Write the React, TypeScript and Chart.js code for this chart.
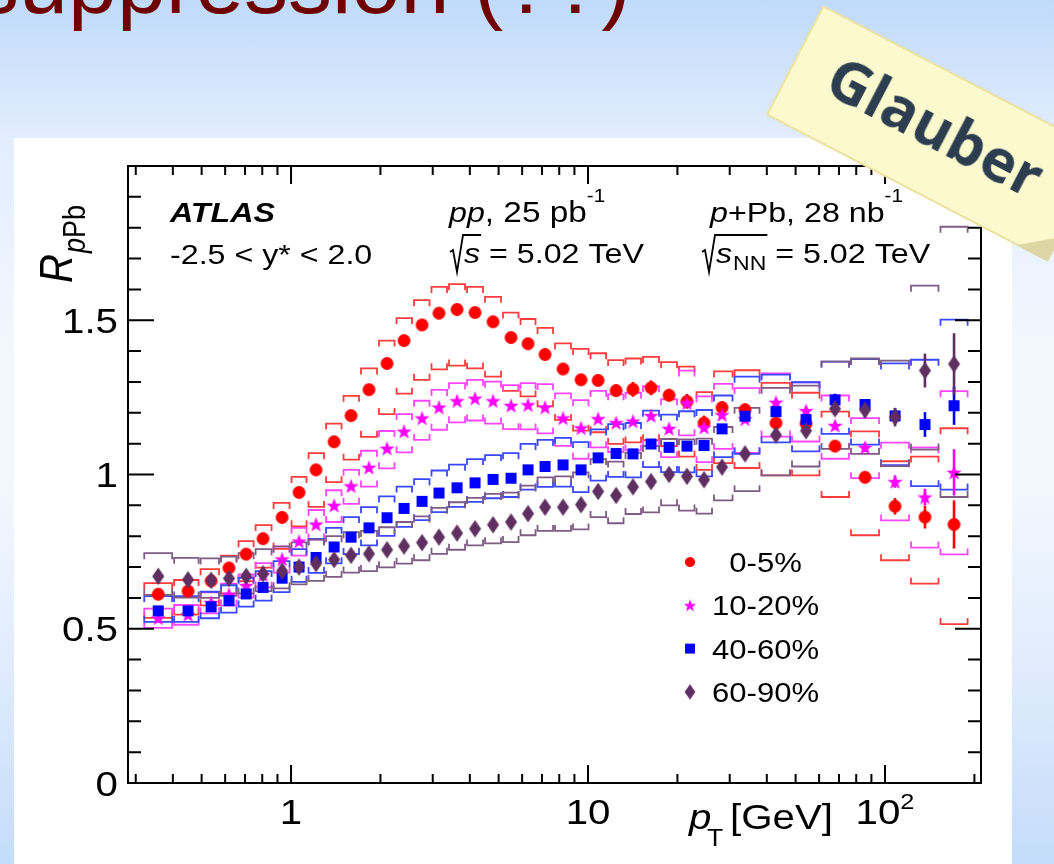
import React, { useEffect, useRef } from "react";
import { Chart, registerables } from "chart.js";

Chart.register(...registerables);

// Charged-hadron R_pPb versus pT, four centrality classes (ATLAS p+Pb, 5.02 TeV)
const pT = [
  0.357, 0.45, 0.538, 0.618, 0.706, 0.805, 0.933, 1.064, 1.214, 1.396,
  1.592, 1.83, 2.105, 2.402, 2.761, 3.149, 3.622, 4.165, 4.788, 5.505,
  6.281, 7.165, 8.24, 9.471, 10.81, 12.43, 14.17, 16.3, 18.74, 21.54,
  24.58, 28.26, 33.79, 42.95, 54.2, 67.87, 85.65, 108.1, 136.3, 170.8,
];

// 0-5 %
const rpPb_0_5 = [
  0.612, 0.622, 0.655, 0.697, 0.742, 0.792, 0.861, 0.942, 1.015, 1.106,
  1.191, 1.275, 1.36, 1.434, 1.485, 1.523, 1.535, 1.525, 1.495, 1.444,
  1.424, 1.389, 1.342, 1.307, 1.305, 1.272, 1.276, 1.281, 1.257, 1.237,
  1.167, 1.217, 1.21, 1.167, 1.165, 1.092, 0.991, 0.897, 0.862, 0.838,
];
const sysUp_0_5 = [
  0.036, 0.036, 0.038, 0.04, 0.042, 0.044, 0.047, 0.05, 0.054, 0.059,
  0.064, 0.069, 0.074, 0.073, 0.08, 0.085, 0.082, 0.083, 0.081, 0.081,
  0.08, 0.086, 0.083, 0.1, 0.088, 0.099, 0.1, 0.1, 0.107, 0.113,
  0.1, 0.117, 0.128, 0.13, 0.1, 0.112, 0.149, 0.146, 0.196, 0.312,
];
const sysDn_0_5 = [
  0.077, 0.076, 0.079, 0.083, 0.088, 0.094, 0.102, 0.11, 0.12, 0.131,
  0.143, 0.153, 0.164, 0.172, 0.178, 0.182, 0.182, 0.181, 0.178, 0.173,
  0.171, 0.168, 0.165, 0.165, 0.168, 0.173, 0.172, 0.17, 0.165, 0.179,
  0.152, 0.18, 0.189, 0.17, 0.168, 0.165, 0.188, 0.175, 0.216, 0.323,
];
const stat_0_5 = [
  0.003, 0.003, 0.003, 0.003, 0.003, 0.003, 0.003, 0.003, 0.003, 0.003,
  0.003, 0.003, 0.003, 0.003, 0.003, 0.003, 0.003, 0.003, 0.003, 0.003,
  0.003, 0.003, 0.003, 0.003, 0.01, 0.02, 0.024, 0.024, 0.02, 0.024,
  0.024, 0.02, 0.02, 0.015, 0.012, 0.012, 0.012, 0.027, 0.037, 0.078,
];

// 10-20 %
const rpPb_10_20 = [
  0.535, 0.546, 0.585, 0.612, 0.64, 0.675, 0.726, 0.784, 0.839, 0.9,
  0.963, 1.023, 1.085, 1.14, 1.183, 1.218, 1.239, 1.247, 1.239, 1.224,
  1.226, 1.218, 1.183, 1.151, 1.181, 1.168, 1.173, 1.191, 1.149, 1.232,
  1.153, 1.194, 1.18, 1.234, 1.207, 1.159, 1.088, 0.977, 0.927, 1.007,
];
const sysUp_10_20 = [
  0.03, 0.031, 0.033, 0.034, 0.036, 0.038, 0.04, 0.043, 0.046, 0.049,
  0.052, 0.054, 0.056, 0.056, 0.056, 0.056, 0.057, 0.06, 0.062, 0.066,
  0.07, 0.075, 0.08, 0.09, 0.09, 0.092, 0.092, 0.095, 0.095, 0.105,
  0.1, 0.1, 0.1, 0.094, 0.092, 0.097, 0.095, 0.126, 0.161, 0.263,
];
const sysDn_10_20 = [
  0.032, 0.033, 0.035, 0.037, 0.039, 0.041, 0.044, 0.047, 0.05, 0.054,
  0.058, 0.062, 0.065, 0.068, 0.071, 0.073, 0.07, 0.072, 0.074, 0.077,
  0.08, 0.085, 0.09, 0.1, 0.093, 0.095, 0.095, 0.098, 0.093, 0.105,
  0.113, 0.111, 0.11, 0.111, 0.1, 0.108, 0.1, 0.126, 0.164, 0.266,
];
const stat_10_20 = [
  0.003, 0.003, 0.003, 0.003, 0.003, 0.003, 0.003, 0.003, 0.003, 0.003,
  0.003, 0.003, 0.003, 0.003, 0.003, 0.003, 0.003, 0.003, 0.003, 0.003,
  0.003, 0.003, 0.003, 0.003, 0.008, 0.01, 0.01, 0.01, 0.012, 0.012,
  0.012, 0.012, 0.012, 0.012, 0.012, 0.012, 0.015, 0.02, 0.027, 0.075,
];

// 40-60 %
const rpPb_40_60 = [
  0.558, 0.558, 0.571, 0.591, 0.613, 0.634, 0.664, 0.7, 0.731, 0.765,
  0.797, 0.827, 0.86, 0.89, 0.913, 0.94, 0.957, 0.973, 0.984, 0.988,
  1.015, 1.026, 1.031, 1.015, 1.054, 1.068, 1.067, 1.099, 1.088, 1.092,
  1.094, 1.148, 1.189, 1.204, 1.178, 1.242, 1.227, 1.19, 1.162, 1.223,
];
const sysUp_40_60 = [
  0.048, 0.048, 0.049, 0.05, 0.052, 0.053, 0.055, 0.058, 0.06, 0.062,
  0.065, 0.067, 0.069, 0.071, 0.072, 0.073, 0.075, 0.077, 0.079, 0.081,
  0.084, 0.086, 0.088, 0.09, 0.092, 0.095, 0.1, 0.108, 0.106, 0.113,
  0.115, 0.108, 0.128, 0.12, 0.121, 0.124, 0.147, 0.17, 0.21, 0.279,
];
const sysDn_40_60 = [
  0.036, 0.036, 0.037, 0.039, 0.041, 0.043, 0.045, 0.048, 0.05, 0.053,
  0.055, 0.057, 0.059, 0.06, 0.061, 0.062, 0.062, 0.062, 0.061, 0.061,
  0.064, 0.066, 0.07, 0.072, 0.074, 0.076, 0.076, 0.075, 0.08, 0.085,
  0.1, 0.092, 0.122, 0.1, 0.103, 0.11, 0.13, 0.16, 0.2, 0.272,
];
const stat_40_60 = [
  0.003, 0.003, 0.003, 0.003, 0.003, 0.003, 0.003, 0.003, 0.003, 0.003,
  0.003, 0.003, 0.003, 0.003, 0.003, 0.003, 0.003, 0.003, 0.003, 0.003,
  0.003, 0.003, 0.003, 0.003, 0.008, 0.01, 0.012, 0.012, 0.015, 0.015,
  0.018, 0.015, 0.012, 0.012, 0.012, 0.02, 0.015, 0.025, 0.04, 0.062,
];

// 60-90 %
const rpPb_60_90 = [
  0.67, 0.659, 0.657, 0.663, 0.67, 0.678, 0.687, 0.7, 0.711, 0.724,
  0.738, 0.743, 0.756, 0.768, 0.779, 0.797, 0.81, 0.824, 0.837, 0.846,
  0.873, 0.894, 0.894, 0.902, 0.945, 0.932, 0.96, 0.977, 1.0, 0.994,
  0.983, 1.024, 1.067, 1.128, 1.142, 1.213, 1.209, 1.186, 1.337, 1.358,
];
const sysUp_60_90 = [
  0.075, 0.071, 0.071, 0.071, 0.075, 0.08, 0.08, 0.08, 0.078, 0.076,
  0.075, 0.074, 0.073, 0.078, 0.085, 0.095, 0.1, 0.1, 0.1, 0.095,
  0.091, 0.097, 0.1, 0.105, 0.105, 0.11, 0.11, 0.115, 0.115, 0.12,
  0.133, 0.13, 0.149, 0.153, 0.146, 0.153, 0.167, 0.183, 0.275, 0.445,
];
const sysDn_60_90 = [
  0.06, 0.058, 0.057, 0.056, 0.056, 0.056, 0.056, 0.056, 0.056, 0.056,
  0.056, 0.056, 0.057, 0.057, 0.057, 0.054, 0.054, 0.054, 0.06, 0.065,
  0.07, 0.077, 0.077, 0.08, 0.083, 0.09, 0.088, 0.1, 0.1, 0.111,
  0.11, 0.108, 0.121, 0.131, 0.116, 0.13, 0.142, 0.159, 0.256, 0.431,
];
const stat_60_90 = [
  0.003, 0.003, 0.003, 0.003, 0.003, 0.003, 0.003, 0.003, 0.003, 0.003,
  0.003, 0.003, 0.003, 0.003, 0.003, 0.003, 0.003, 0.003, 0.003, 0.003,
  0.003, 0.003, 0.003, 0.003, 0.008, 0.008, 0.01, 0.01, 0.012, 0.012,
  0.012, 0.012, 0.012, 0.015, 0.02, 0.02, 0.024, 0.03, 0.055, 0.1,
];

const centralityLabels = ["\u20070-5%", "10-20%", "40-60%", "60-90%"];
const xTickValues = [1, 10, 100];
const xTickLabels = ["1", "10", "10²"];
const yTickValues = [0, 0.5, 1, 1.5];
const yTickLabels = ["0", "0.5", "1", "1.5"];

const HELV = "'Liberation Sans', Arial, Helvetica, sans-serif";
const SX = 1.15; // horizontal stretch of the figure's lettering

type MarkerKind = "circle" | "star" | "square" | "diamond";

function makeMarker(kind: MarkerKind, color: string, s = 1): HTMLCanvasElement {
  const c = document.createElement("canvas");
  let w = 15;
  let h = 15;
  if (kind === "star") { w = 19; h = 19; }
  if (kind === "diamond") { w = 15; h = 21; }
  w = Math.round(w * s);
  h = Math.round(h * s);
  c.width = w;
  c.height = h;
  const g = c.getContext("2d")!;
  g.fillStyle = color;
  const cx = w / 2;
  const cy = h / 2;
  g.beginPath();
  if (kind === "circle") {
    g.arc(cx, cy, 6.4 * s, 0, Math.PI * 2);
  } else if (kind === "square") {
    g.rect(cx - 5.5 * s, cy - 5.5 * s, 11 * s, 11 * s);
  } else if (kind === "diamond") {
    g.moveTo(cx, cy - 8.7 * s);
    g.lineTo(cx + 6 * s, cy);
    g.lineTo(cx, cy + 8.7 * s);
    g.lineTo(cx - 6 * s, cy);
    g.closePath();
  } else {
    const R = 8 * s;
    const r = 3.3 * s;
    for (let k = 0; k < 10; k++) {
      const a = -Math.PI / 2 + (k * Math.PI) / 5;
      const rr = k % 2 === 0 ? R : r;
      const px = cx + rr * Math.cos(a);
      const py = cy + 0.8 * s + rr * Math.sin(a);
      if (k === 0) g.moveTo(px, py); else g.lineTo(px, py);
    }
    g.closePath();
  }
  g.fill();
  return c;
}

interface Series {
  label: string;
  values: number[];
  up: number[];
  dn: number[];
  stat: number[];
  color: string;
  sysColor: string;
  marker: MarkerKind;
  order: number;
}

const SERIES: Series[] = [
  { label: centralityLabels[0], values: rpPb_0_5, up: sysUp_0_5, dn: sysDn_0_5, stat: stat_0_5, color: "#ff0000", sysColor: "#ff3c3c", marker: "circle", order: 4 },
  { label: centralityLabels[1], values: rpPb_10_20, up: sysUp_10_20, dn: sysDn_10_20, stat: stat_10_20, color: "#ff00ff", sysColor: "#ff45ff", marker: "star", order: 3 },
  { label: centralityLabels[2], values: rpPb_40_60, up: sysUp_40_60, dn: sysDn_40_60, stat: stat_40_60, color: "#0000ff", sysColor: "#3a48ff", marker: "square", order: 2 },
  { label: centralityLabels[3], values: rpPb_60_90, up: sysUp_60_90, dn: sysDn_60_90, stat: stat_60_90, color: "#5e2f60", sysColor: "#7e5c84", marker: "diamond", order: 1 },
];

// box edges: geometric midpoints between neighbouring pT values
function binEdges(i: number): [number, number] {
  const n = pT.length;
  const lo = i > 0 ? Math.sqrt(pT[i - 1] * pT[i]) : (pT[0] * pT[0]) / Math.sqrt(pT[0] * pT[1]);
  const hi = i < n - 1 ? Math.sqrt(pT[i] * pT[i + 1]) : (pT[n - 1] * pT[n - 1]) / Math.sqrt(pT[n - 2] * pT[n - 1]);
  return [lo, hi];
}

type Run = { t: string; f: string; dy?: number };

function drawRuns(ctx: CanvasRenderingContext2D, x: number, y: number, runs: Run[]): number {
  let cx = x;
  for (const r of runs) {
    ctx.font = r.f;
    ctx.save();
    ctx.translate(cx, y + (r.dy || 0));
    ctx.scale(SX, 1);
    ctx.fillText(r.t, 0, 0);
    ctx.restore();
    cx += ctx.measureText(r.t).width * SX;
  }
  return cx;
}

function runsWidth(ctx: CanvasRenderingContext2D, runs: Run[]): number {
  let w = 0;
  for (const r of runs) {
    ctx.font = r.f;
    w += ctx.measureText(r.t).width * SX;
  }
  return w;
}

function radical(ctx: CanvasRenderingContext2D, x0: number, by: number, end: number) {
  ctx.save();
  ctx.strokeStyle = "#000";
  ctx.lineWidth = 1.8;
  ctx.lineJoin = "miter";
  ctx.beginPath();
  ctx.moveTo(x0, by - 11);
  ctx.lineTo(x0 + 3, by - 13);
  ctx.lineTo(x0 + 7, by + 9);
  ctx.lineTo(x0 + 13, by - 28);
  ctx.lineTo(end, by - 28);
  ctx.stroke();
  ctx.restore();
}

function labelRuns(label: string, size: number): Run[] {
  const parts = label.split("²");
  if (parts.length === 1) return [{ t: label, f: `${size}px ${HELV}` }];
  return [
    { t: parts[0], f: `${size}px ${HELV}` },
    { t: "2", f: `${Math.round(size * 0.62)}px ${HELV}`, dy: -15 },
  ];
}

const legendMarkers: Record<string, HTMLCanvasElement> = {};

const rootFrame = {
  id: "rootFrame",
  beforeDatasetsDraw(chart: any) {
    const { ctx, scales } = chart;
    const xs = scales.x;
    const ys = scales.y;
    const CAP = 6;
    ctx.save();
    ctx.lineWidth = 1.8;
    for (const s of SERIES) {
      ctx.strokeStyle = s.sysColor;
      for (let i = 0; i < pT.length; i++) {
        const [lo, hi] = binEdges(i);
        const xl = xs.getPixelForValue(lo) + 1;
        const xr = xs.getPixelForValue(hi) - 1;
        const yt = ys.getPixelForValue(s.values[i] + s.up[i]);
        const yb = ys.getPixelForValue(s.values[i] - s.dn[i]);
        ctx.beginPath();
        ctx.moveTo(xl, yt + CAP);
        ctx.lineTo(xl, yt);
        ctx.lineTo(xr, yt);
        ctx.lineTo(xr, yt + CAP);
        ctx.moveTo(xl, yb - CAP);
        ctx.lineTo(xl, yb);
        ctx.lineTo(xr, yb);
        ctx.lineTo(xr, yb - CAP);
        ctx.stroke();
      }
    }
    ctx.lineWidth = 2.6;
    for (const s of SERIES) {
      ctx.strokeStyle = s.color;
      for (let i = 0; i < pT.length; i++) {
        if (s.stat[i] < 0.006) continue;
        const px = xs.getPixelForValue(pT[i]);
        ctx.beginPath();
        ctx.moveTo(px, ys.getPixelForValue(s.values[i] + s.stat[i]));
        ctx.lineTo(px, ys.getPixelForValue(s.values[i] - s.stat[i]));
        ctx.stroke();
      }
    }
    ctx.restore();
  },
  afterDatasetsDraw(chart: any) {
    const { ctx, chartArea, scales } = chart;
    const xs = scales.x;
    const ys = scales.y;
    const { left: L, right: R, top: T, bottom: B } = chartArea;
    ctx.save();
    ctx.fillStyle = "#000";
    ctx.strokeStyle = "#000";
    ctx.textAlign = "left";
    ctx.textBaseline = "alphabetic";

    // frame
    ctx.lineWidth = 2;
    ctx.strokeRect(L, T, R - L, B - T);

    // x ticks, bottom and top, pointing inward
    const xMinor: number[] = [];
    for (const dec of [0.1, 1, 10, 100]) {
      for (let k = 2; k <= 9; k++) {
        const v = k * dec;
        if (v >= xs.min && v <= xs.max) xMinor.push(v);
      }
    }
    ctx.lineWidth = 2;
    ctx.beginPath();
    for (const v of xMinor) {
      const px = xs.getPixelForValue(v);
      ctx.moveTo(px, B); ctx.lineTo(px, B - 9);
      ctx.moveTo(px, T); ctx.lineTo(px, T + 9);
    }
    for (const v of xTickValues) {
      const px = xs.getPixelForValue(v);
      ctx.moveTo(px, B); ctx.lineTo(px, B - 18);
      ctx.moveTo(px, T); ctx.lineTo(px, T + 18);
    }
    // y ticks, left and right
    for (let k = 1; k < 20; k++) {
      if (k % 5 === 0) continue;
      const py = ys.getPixelForValue(k / 10);
      ctx.moveTo(L, py); ctx.lineTo(L + 13, py);
      ctx.moveTo(R, py); ctx.lineTo(R - 13, py);
    }
    for (const v of yTickValues) {
      const py = ys.getPixelForValue(v);
      ctx.moveTo(L, py); ctx.lineTo(L + 26, py);
      ctx.moveTo(R, py); ctx.lineTo(R - 26, py);
    }
    ctx.stroke();

    // tick labels
    xTickValues.forEach((v, i) => {
      const runs = labelRuns(xTickLabels[i], 35);
      const w = runsWidth(ctx, runs);
      drawRuns(ctx, xs.getPixelForValue(v) - w / 2, B + 41, runs);
    });
    yTickValues.forEach((v, i) => {
      const runs = labelRuns(yTickLabels[i], 35);
      const w = runsWidth(ctx, runs);
      drawRuns(ctx, L - 10 - w, ys.getPixelForValue(v) + 12.5, runs);
    });

    // x title
    drawRuns(ctx, L + 561, B + 46, [{ t: "p", f: `italic 35px ${HELV}` }]);
    drawRuns(ctx, L + 579, B + 63, [{ t: "T", f: `23px ${HELV}` }]);
    drawRuns(ctx, L + 602, B + 46, [{ t: "[GeV]", f: `35px ${HELV}` }]);

    // y title (rotated)
    ctx.save();
    ctx.translate(L - 56, T + 117);
    ctx.rotate(-Math.PI / 2);
    ctx.scale(1, SX);
    ctx.font = `italic 40px ${HELV}`;
    ctx.fillText("R", 0, 0);
    const wR = ctx.measureText("R").width;
    ctx.font = `italic 27px ${HELV}`;
    ctx.fillText("p", wR + 1, 11);
    const wp = ctx.measureText("p").width;
    ctx.font = `27px ${HELV}`;
    ctx.fillText("Pb", wR + 1 + wp, 11);
    ctx.restore();

    // annotations
    const f28 = `28px ${HELV}`;
    const i28 = `italic 28px ${HELV}`;
    drawRuns(ctx, L + 42, T + 56, [{ t: "ATLAS", f: `italic bold 28px ${HELV}` }]);
    drawRuns(ctx, L + 42, T + 98, [{ t: "-2.5 < y* < 2.0", f: f28 }]);

    drawRuns(ctx, L + 321, T + 56, [
      { t: "pp", f: i28 },
      { t: ", 25 pb", f: `29px ${HELV}` },
      { t: "-1", f: `18px ${HELV}`, dy: -20 },
    ]);
    {
      const by = T + 97;
      const x0 = L + 322;
      const xe = drawRuns(ctx, x0 + 14, by, [{ t: "s", f: i28 }]);
      radical(ctx, x0, by, xe + 1);
      drawRuns(ctx, xe, by, [{ t: " = 5.02 TeV", f: f28 }]);
    }

    drawRuns(ctx, L + 582, T + 56, [
      { t: "p", f: i28 },
      { t: "+Pb, 28 nb", f: f28 },
      { t: "-1", f: `18px ${HELV}`, dy: -20 },
    ]);
    {
      const by = T + 97;
      const x0 = L + 574;
      let xe = drawRuns(ctx, x0 + 14, by, [{ t: "s", f: i28 }]);
      xe = drawRuns(ctx, xe + 1, by, [{ t: "NN", f: `20px ${HELV}`, dy: 7 }]);
      radical(ctx, x0, by, xe + 1);
      drawRuns(ctx, xe, by, [{ t: " = 5.02 TeV", f: f28 }]);
    }

    // legend
    SERIES.forEach((s, k) => {
      const cy = T + 396 + k * 43.3;
      const img = legendMarkers[s.marker];
      if (img) ctx.drawImage(img, L + 562 - img.width / 2, cy - img.height / 2);
      drawRuns(ctx, L + 584, cy + 10, [{ t: s.label, f: `27px ${HELV}` }]);
    });

    ctx.restore();
  },
};

export default function App() {
  const ref = useRef<HTMLCanvasElement>(null);

  useEffect(() => {
    const canvas = ref.current;
    if (!canvas) return;
    legendMarkers.circle = makeMarker("circle", "#ff0000", 0.8);
    legendMarkers.star = makeMarker("star", "#ff00ff", 0.82);
    legendMarkers.square = makeMarker("square", "#0000ff", 0.9);
    legendMarkers.diamond = makeMarker("diamond", "#5e2f60", 0.9);

    const chart = new Chart(canvas, {
      type: "scatter",
      data: {
        datasets: SERIES.map((s) => ({
          label: s.label,
          data: s.values.map((v, i) => ({ x: pT[i], y: v })),
          pointStyle: makeMarker(s.marker, s.color),
          pointRadius: 6,
          pointHoverRadius: 6,
          borderWidth: 0,
          backgroundColor: s.color,
          borderColor: s.color,
          showLine: false,
          order: s.order,
        })),
      },
      options: {
        responsive: false,
        maintainAspectRatio: false,
        animation: false,
        devicePixelRatio: 1,
        events: [],
        layout: { padding: { left: 128, top: 166, right: 73, bottom: 81 } },
        plugins: {
          legend: { display: false },
          tooltip: { enabled: false },
          title: { display: false },
        },
        scales: {
          x: { type: "logarithmic", min: 0.2825, max: 210.5, display: false },
          y: { type: "linear", min: 0, max: 2, display: false },
        },
      },
      plugins: [rootFrame],
    } as any);
    return () => chart.destroy();
  }, []);

  return (
    <div
      style={{
        position: "fixed",
        left: 0,
        top: 0,
        width: 1054,
        height: 864,
        overflow: "hidden",
        background:
          "linear-gradient(to bottom, #c0dafa 0%, #e2edfd 16%, #f3f8fe 42%, #f3f8fe 55%, #dfebfc 78%, #c4dcfa 100%)",
      }}
    >
      <div
        style={{
          position: "absolute",
          left: -25,
          top: -61,
          fontFamily: "'Liberation Sans', Arial, sans-serif",
          fontSize: 88,
          lineHeight: "88px",
          color: "#6e0000",
          whiteSpace: "nowrap",
        }}
      >
        suppression (??)
      </div>
      <div
        style={{
          position: "absolute",
          left: 14,
          top: 138,
          width: 998,
          height: 726,
          background: "#ffffff",
        }}
      />
      <canvas
        ref={ref}
        width={1054}
        height={864}
        style={{ position: "absolute", left: 0, top: 0 }}
      />
      <div
        style={{
          position: "absolute",
          left: 823,
          top: 5,
          width: 318,
          height: 124,
          transformOrigin: "0 0",
          transform: "rotate(27.5deg)",
          background: "#fbf9cd",
          border: "2px solid #ece2a0",
          boxSizing: "border-box",
        }}
      >
        <div
          style={{
            position: "absolute",
            left: 4,
            top: 20,
            width: 300,
            textAlign: "center",
            fontFamily: "'Open Sans', 'DejaVu Sans', sans-serif",
            fontWeight: 700,
            fontSize: 59,
            lineHeight: "64px",
            color: "#2c3d50",
            whiteSpace: "nowrap",
          }}
        >
          Glauber
        </div>
        <div
          style={{
            position: "absolute",
            left: 280,
            top: 94,
            width: 36,
            height: 28,
            background: "#ddd6a4",
            clipPath: "polygon(0 100%, 100% 0, 100% 100%)",
          }}
        />
      </div>
    </div>
  );
}
